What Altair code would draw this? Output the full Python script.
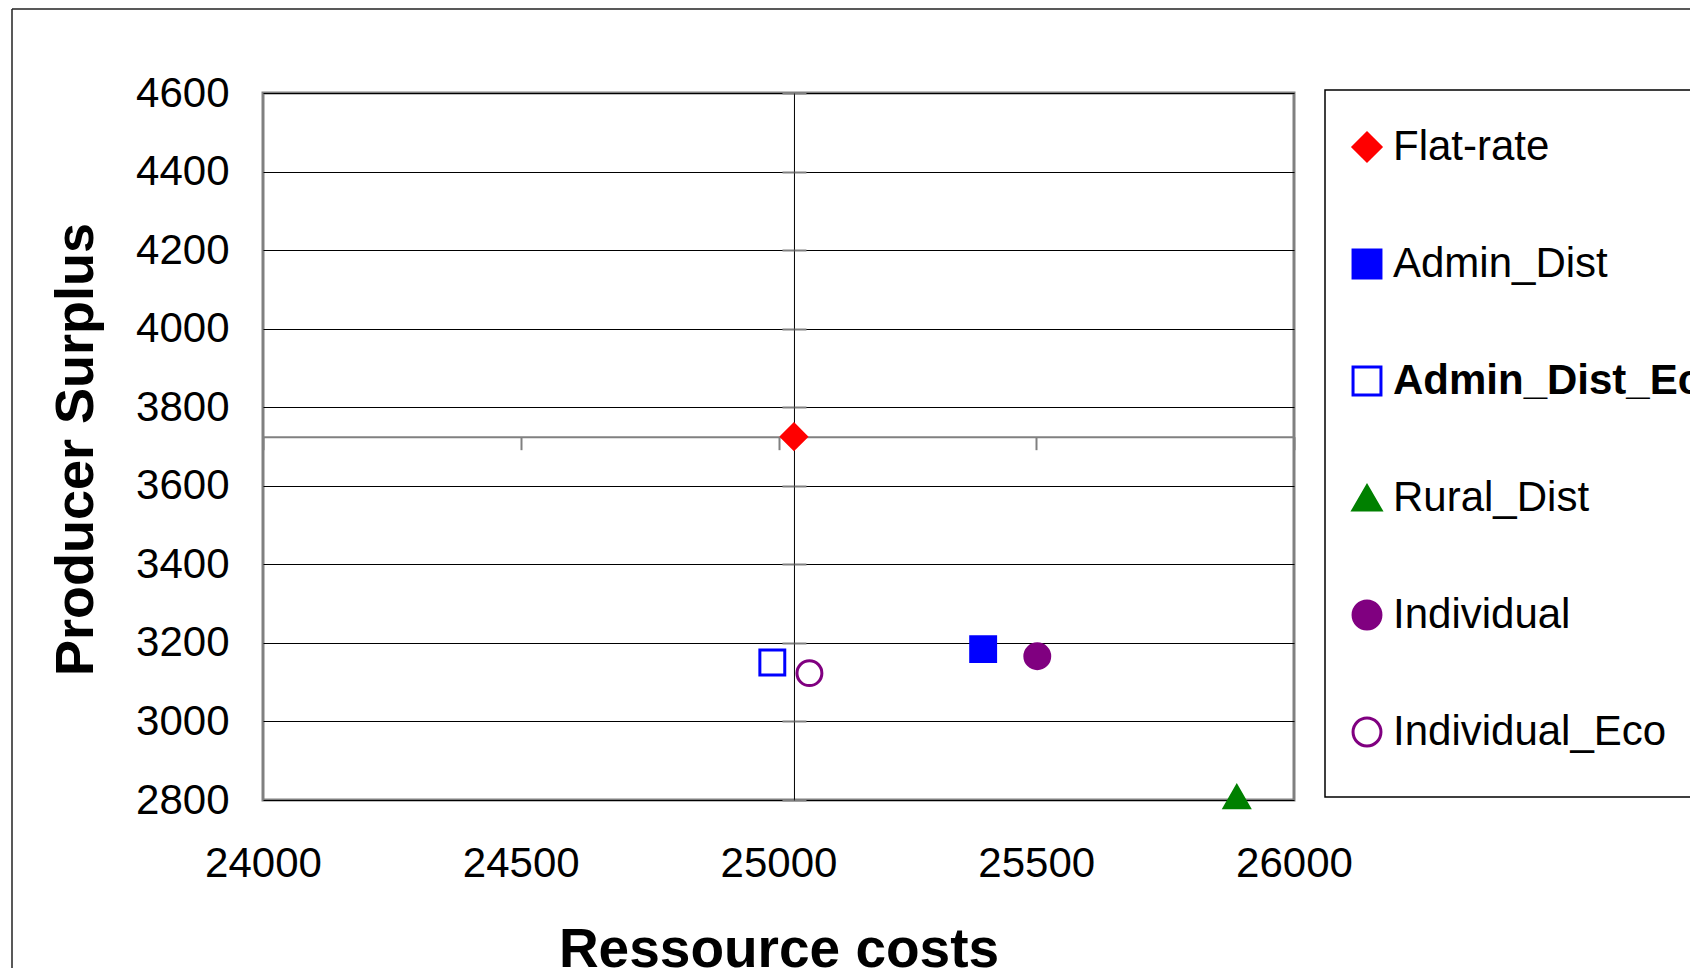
import altair as alt
import pandas as pd

# ---- data ----
scenarios = ["Flat-rate", "Admin_Dist", "Admin_Dist_Eco", "Rural_Dist", "Individual", "Individual_Eco"]
ressource_costs = [25030, 25397, 24988, 25889, 25502, 25060]
producer_surplus = [3725, 3184, 3150, 2808, 3166, 3123]

shapes = ["diamond", "square", "square", "triangle-up", "circle", "circle"]
stroke_colors = ["#FF0000", "#0000FF", "#0000FF", "#008000", "#800080", "#800080"]
fill_colors = ["#FF0000", "#0000FF", "#FFFFFF", "#008000", "#800080", "#FFFFFF"]

x_ticks = [24000, 24500, 25000, 25500, 26000]
y_ticks = [2800, 3000, 3200, 3400, 3600, 3800, 4000, 4200, 4400, 4600]

df = pd.DataFrame({"scenario": scenarios, "cost": ressource_costs, "surplus": producer_surplus})

FONT = "Liberation Sans, Arial, Helvetica, sans-serif"
W, H = 1031, 707
XMIN, XMAX = x_ticks[0], x_ticks[-1]
YMIN, YMAX = y_ticks[0], y_ticks[-1]

# axes cross at the Flat-rate point
cross_x = ressource_costs[0]
cross_y = producer_surplus[0]
off_x_axis = -(cross_y - YMIN) / (YMAX - YMIN) * H
off_y_left = -(cross_x - XMIN) / (XMAX - XMIN) * W
off_y_right = -(XMAX - cross_x) / (XMAX - XMIN) * W

xscale = alt.Scale(domain=[XMIN, XMAX], nice=False, zero=False)
yscale = alt.Scale(domain=[YMIN, YMAX], nice=False, zero=False)

legend = alt.Legend(
    orient="none", legendX=1083, legendY=33, title=None,
    labelFont=FONT, labelFontSize=42, labelColor="black", labelOffset=5,
    labelLimit=2000, rowPadding=75, symbolStrokeWidth=3, symbolSize=780,
    padding=0,
    labelFontWeight={"expr": "datum.label === 'Admin_Dist_Eco' ? 'bold' : 'normal'"},
)

points = alt.Chart(df).mark_point(filled=True, opacity=1, strokeWidth=3, size=620).encode(
    x=alt.X("cost:Q", scale=xscale, axis=alt.Axis(
        orient="bottom", title="Ressource costs", values=x_ticks, format="d",
        domain=False, ticks=False, tickSize=0, grid=False,
        labelFont=FONT, labelFontSize=42, labelColor="black", labelPadding=43,
        labelFlush=False, labelOverlap=False,
        titleFont=FONT, titleFontSize=55, titleFontWeight="bold", titleColor="black",
        titleBaseline="alphabetic", titleY=166, zindex=0)),
    y=alt.Y("surplus:Q", scale=yscale, axis=alt.Axis(
        orient="left", title="Producer Surplus", values=y_ticks, format="d",
        domain=False, ticks=False, tickSize=0,
        grid=True, gridColor="black", gridWidth=1, gridOpacity=1,
        labelFont=FONT, labelFontSize=42, labelColor="black", labelPadding=34,
        labelFlush=False, labelOverlap=False,
        titleFont=FONT, titleFontSize=54, titleFontWeight="bold", titleColor="black",
        titleAngle=270, titleBaseline="alphabetic", titleX=-171, titleY=356,
        titleAlign="center", zindex=0)),
    fill=alt.Fill("scenario:N", scale=alt.Scale(domain=scenarios, range=fill_colors), legend=legend),
    stroke=alt.Stroke("scenario:N", scale=alt.Scale(domain=scenarios, range=stroke_colors), legend=legend),
    shape=alt.Shape("scenario:N", scale=alt.Scale(domain=scenarios, range=shapes), legend=legend),
)

cross1 = alt.Chart(df).mark_point(opacity=0).encode(
    x=alt.X("cost:Q", scale=xscale, axis=alt.Axis(
        orient="bottom", offset=off_x_axis, values=x_ticks, title=None, labels=False,
        grid=False, domain=True, domainColor="#808080", domainWidth=2,
        ticks=True, tickColor="#808080", tickWidth=2, tickSize=13, zindex=0)),
    y=alt.Y("surplus:Q", scale=yscale, axis=alt.Axis(
        orient="left", offset=off_y_left, values=y_ticks, title=None, labels=False,
        grid=False, domain=True, domainColor="black", domainWidth=1,
        ticks=True, tickColor="#808080", tickWidth=2, tickSize=12, zindex=0)),
)

cross2 = alt.Chart(df).mark_point(opacity=0).encode(
    x=alt.X("cost:Q", scale=xscale, axis=None),
    y=alt.Y("surplus:Q", scale=yscale, axis=alt.Axis(
        orient="right", offset=off_y_right, values=y_ticks, title=None, labels=False,
        grid=False, domain=False,
        ticks=True, tickColor="#808080", tickWidth=2, tickSize=12, zindex=0)),
)

one = pd.DataFrame({"k": [0]})
legend_box = alt.Chart(one).mark_rect(fill="white", fillOpacity=0, stroke="black", strokeWidth=1.5).encode(
    x=alt.value(1062), x2=alt.value(1700), y=alt.value(-3), y2=alt.value(704)
)
frame_left = alt.Chart(one).mark_rule(color="#222222", strokeWidth=1.5).encode(
    x=alt.value(-251), y=alt.value(-84), y2=alt.value(900)
)
frame_top = alt.Chart(one).mark_rule(color="#222222", strokeWidth=1.5).encode(
    x=alt.value(-251), x2=alt.value(1500), y=alt.value(-84)
)

chart = alt.layer(frame_left, frame_top, legend_box, cross1, cross2, points).resolve_axis(
    x="independent", y="independent"
).properties(
    width=W, height=H,
    padding={"left": 255, "top": 85, "right": 396, "bottom": 168},
    autosize=alt.AutoSizeParams(type="none"),
    background="white",
).configure_view(stroke="#808080", strokeWidth=3)

chart.save("out.html", embed_options={"renderer": "svg", "actions": False})
